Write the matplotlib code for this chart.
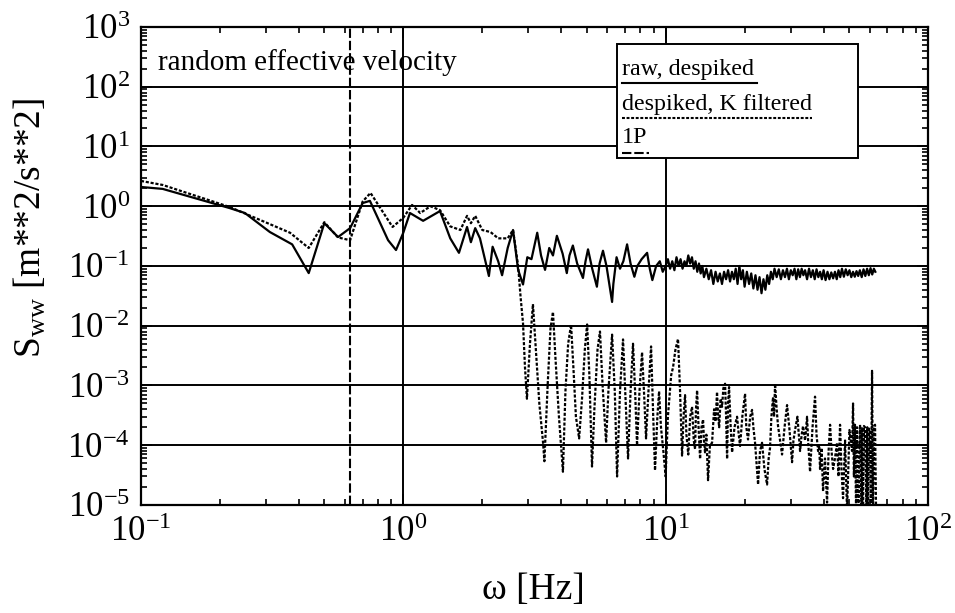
import matplotlib
matplotlib.use("Agg")
import matplotlib.pyplot as plt
from matplotlib.patches import Rectangle
from matplotlib.ticker import LogLocator, NullFormatter

plt.rcParams['font.family'] = ['Liberation Serif', 'DejaVu Serif']
plt.rcParams['mathtext.fontset'] = 'custom'
plt.rcParams['mathtext.rm'] = 'Liberation Serif'
plt.rcParams['mathtext.it'] = 'Liberation Serif:italic'
plt.rcParams['axes.unicode_minus'] = False

# raw, despiked (solid)
raw_f = [0.100, 0.121, 0.218, 0.249, 0.310, 0.377, 0.436, 0.500, 0.564, 0.627,
         0.700, 0.746, 0.875, 0.938, 1.00, 1.06, 1.19, 1.38, 1.51, 1.63,
         1.75, 1.81, 1.88, 1.96, 2.12, 2.19, 2.30, 2.38, 2.50, 2.62,
         2.74, 2.86, 2.97, 3.08, 3.24, 3.35, 3.47, 3.60, 3.72, 3.85,
         4.05, 4.20, 4.30, 4.43, 4.60, 4.84, 4.95, 5.06, 5.25, 5.47,
         5.60, 5.77, 5.95, 6.15, 6.25, 6.32, 6.50, 6.70, 6.90, 7.13,
         7.35, 7.60, 7.80, 8.10, 8.50, 8.70, 8.90, 9.20, 9.50, 9.75,
         10.0, 10.2, 10.4, 10.6, 10.8, 11.0, 11.2, 11.4, 11.6, 11.8,
         12.0, 12.2, 12.4, 12.6, 12.8, 13.0, 13.2, 13.4, 13.6, 13.8,
         14.0, 14.3, 14.6, 14.9, 15.2, 15.5, 15.8, 16.1, 16.4, 16.7,
         17.0, 17.3, 17.6, 17.9, 18.2, 18.5, 18.8, 19.1, 19.4, 19.7,
         20.0, 20.4, 20.8, 21.2, 21.6, 22.0, 22.4, 22.8, 23.2, 23.6,
         24.0, 24.4, 24.8, 25.2, 25.6, 26.0, 26.5, 27.0, 27.5, 28.0,
         28.5, 29.0, 29.5, 30.0, 30.5, 31.0, 31.5, 32.0, 32.5, 33.0,
         33.5, 34.0, 34.6, 35.2, 35.8, 36.4, 37.0, 37.6, 38.2, 38.8,
         39.4, 40.0, 40.7, 41.4, 42.1, 42.8, 43.5, 44.2, 44.9, 45.6,
         46.3, 47.0, 47.8, 48.6, 49.4, 50.2, 51.0, 51.8, 52.6, 53.4,
         54.2, 55.0, 55.9, 56.8, 57.7, 58.6, 59.5, 60.4, 61.3, 62.2,
         63.0]
raw_s = [2.10, 1.95, 0.93, 0.77, 0.37, 0.23, 0.076, 0.52, 0.305, 0.43,
         1.13, 1.23, 0.27, 0.185, 0.36, 0.77, 0.57, 0.83, 0.29, 0.166,
         0.45, 0.25, 0.43, 0.29, 0.068, 0.21, 0.12, 0.07, 0.20, 0.40,
         0.086, 0.049, 0.14, 0.13, 0.36, 0.15, 0.086, 0.20, 0.15, 0.32,
         0.16, 0.076, 0.15, 0.22, 0.11, 0.063, 0.12, 0.19, 0.09, 0.045,
         0.11, 0.18, 0.10, 0.04, 0.025, 0.05, 0.14, 0.09, 0.12, 0.23,
         0.11, 0.066, 0.10, 0.13, 0.166, 0.09, 0.058, 0.10, 0.12, 0.08,
         0.10, 0.13, 0.09, 0.12, 0.085, 0.14, 0.10, 0.13, 0.09, 0.12,
         0.10, 0.15, 0.11, 0.14, 0.09, 0.12, 0.08, 0.11, 0.075, 0.10,
         0.065, 0.09, 0.06, 0.085, 0.05, 0.08, 0.055, 0.075, 0.05, 0.08,
         0.06, 0.085, 0.055, 0.08, 0.06, 0.09, 0.05, 0.10, 0.06, 0.085,
         0.045, 0.08, 0.05, 0.075, 0.042, 0.07, 0.04, 0.065, 0.035, 0.06,
         0.04, 0.07, 0.05, 0.08, 0.06, 0.09, 0.065, 0.088, 0.06, 0.085,
         0.065, 0.09, 0.06, 0.085, 0.07, 0.09, 0.06, 0.088, 0.065, 0.09,
         0.07, 0.085, 0.06, 0.09, 0.065, 0.085, 0.06, 0.088, 0.065, 0.08,
         0.06, 0.085, 0.058, 0.08, 0.06, 0.078, 0.062, 0.08, 0.06, 0.085,
         0.065, 0.09, 0.066, 0.088, 0.07, 0.085, 0.065, 0.08, 0.066, 0.082,
         0.068, 0.085, 0.065, 0.088, 0.068, 0.09, 0.07, 0.092, 0.072, 0.09,
         0.08]

# despiked, K filtered (dotted)
filt_f = [0.100, 0.121, 0.218, 0.310, 0.370, 0.436, 0.500, 0.564, 0.627, 0.700,
          0.750, 0.910, 1.00, 1.08, 1.16, 1.27, 1.38, 1.51, 1.65, 1.75,
          1.81, 1.88, 2.00, 2.15, 2.30, 2.50, 2.62, 2.74, 2.80, 2.86,
          2.91, 2.96, 3.04, 3.12, 3.20, 3.30, 3.41, 3.45, 3.55, 3.64,
          3.72, 3.80, 3.92, 4.06, 4.15, 4.25, 4.36, 4.45, 4.55, 4.68,
          4.80, 4.92, 5.02, 5.12, 5.24, 5.35, 5.50, 5.62, 5.75, 5.93,
          6.05, 6.25, 6.40, 6.53, 6.70, 6.88, 7.00, 7.19, 7.35, 7.51,
          7.65, 7.78, 7.95, 8.13, 8.28, 8.42, 8.60, 8.80, 8.95, 9.11,
          9.30, 9.44, 9.60, 9.80, 10.0, 10.2, 10.5, 10.67, 10.9, 11.15,
          11.35, 11.55, 11.7, 11.86, 12.0, 12.2, 12.4, 12.61, 12.8, 12.95,
          13.05, 13.18, 13.35, 13.53, 13.7, 13.89, 14.0, 14.13, 14.3, 14.51,
          14.75, 15.03, 15.3, 15.5, 15.70, 15.85, 16.0, 16.2, 16.41, 16.6,
          16.85, 17.0, 17.15, 17.3, 17.45, 17.7, 17.92, 18.3, 18.72, 19.0,
          19.22, 19.6, 20.08, 20.3, 20.61, 21.0, 21.35, 21.6, 21.92, 22.2,
          22.51, 22.9, 23.31, 23.8, 24.36, 24.7, 25.00, 25.3, 25.67, 25.9,
          26.13, 26.5, 26.82, 27.3, 27.78, 28.4, 29.03, 29.6, 30.33, 30.7,
          31.14, 31.8, 32.54, 33.0, 33.41, 34.0, 34.60, 35.0, 35.52, 36.3,
          37.11, 37.6, 38.11, 38.5, 38.78, 39.3, 39.82, 40.5, 41.24, 41.8,
          42.35, 42.9, 43.48, 44.2, 45.02, 45.6, 46.22, 46.8, 47.45, 48.3,
          49.15, 50.2, 51.35, 51.81, 52.2, 52.7, 53.2, 53.66, 54.3, 55.09,
          55.8, 56.2, 56.56, 57.0, 57.55, 58.3, 58.7, 59.09, 59.6, 60.14,
          60.6, 61.21, 61.74, 62.3, 62.84, 63.4]
filt_s = [2.65, 2.27, 0.97, 0.50, 0.36, 0.20, 0.54, 0.30, 0.27, 1.20,
          1.67, 0.45, 0.64, 1.05, 0.77, 1.00, 0.86, 0.46, 0.40, 0.69,
          0.52, 0.69, 0.40, 0.37, 0.29, 0.29, 0.40, 0.10, 0.030, 0.011,
          0.002, 0.0006, 0.005, 0.023, 0.004, 0.0005, 0.00011, 0.000054, 0.001, 0.009,
          0.017, 0.003, 0.0003, 0.000036, 0.0008, 0.005, 0.0104, 0.002, 0.0003, 0.00013,
          0.0006, 0.004, 0.0105, 0.0015, 0.000044, 0.0004, 0.004, 0.0080, 0.001, 0.00011,
          0.0008, 0.0071, 0.0008, 0.00003, 0.0008, 0.0059, 0.0010, 0.00006, 0.0008, 0.0050,
          0.0008, 0.00010, 0.0008, 0.0036, 0.0007, 0.00013, 0.0008, 0.0045, 0.0004, 0.000038,
          0.0003, 0.0008, 0.0002, 0.00008, 0.00003, 0.0003, 0.0015, 0.002, 0.004, 0.006,
          0.0008, 0.000067, 0.0003, 0.00069, 0.00015, 0.00007, 0.0003, 0.00044, 0.00012, 0.000086,
          0.0004, 0.00083, 0.0002, 0.000059, 0.0002, 0.00027, 0.00012, 0.000076, 0.00015, 0.000026,
          0.0001, 0.00011, 0.0004, 0.00025, 0.00078, 0.0003, 0.0002, 0.0006, 0.00044, 0.0009,
          0.00107, 0.0003, 0.000059, 0.0005, 0.00094, 0.0002, 0.000076, 0.0002, 0.0003, 0.00015,
          0.000097, 0.0003, 0.00073, 0.0002, 0.000125, 0.0003, 0.00039, 0.0002, 0.00011, 0.00005,
          0.000022, 0.00008, 0.00011, 0.00004, 0.000022, 0.00006, 0.00009, 0.0003, 0.00064, 0.0003,
          0.00107, 0.0004, 0.00021, 0.00012, 0.00007, 0.0002, 0.00047, 0.0002, 0.000052, 0.00012,
          0.00018, 0.0003, 0.00008, 0.00015, 0.00021, 0.00012, 0.0003, 0.0001, 0.000036, 0.0002,
          0.00065, 0.00015, 0.00008, 0.0001, 0.00004, 0.00009, 0.000017, 0.00006, 0.000011, 0.00008,
          0.00022, 0.00008, 0.00004, 0.00006, 0.00011, 0.00003, 0.00022, 0.00004, 0.000013, 0.00012,
          0.000008, 0.00018, 0.00008, 0.0005, 0.00003, 0.00022, 0.000008, 0.0002, 0.000008, 0.00022,
          0.000008, 0.0002, 0.000008, 0.00021, 0.0002, 0.000008, 0.0002, 0.000008, 0.00019, 0.00018,
          0.000008, 0.00176, 0.000008, 0.0002, 0.00022, 0.000008]

one_p = 0.627  # 1P rotor frequency [Hz]

fig = plt.figure(figsize=(9.55, 6.13), dpi=100)
ax = fig.add_axes([0.1476, 0.1762, 0.8241, 0.7798])

ax.plot(raw_f, raw_s, color='black', lw=1.6, zorder=2)
ax.plot(filt_f, filt_s, color='black', lw=1.6, dashes=(1.4, 0.8), zorder=2)
ax.axvline(one_p, color='black', lw=1.5, dashes=(4.5, 1.4), zorder=2)

ax.set_xscale('log')
ax.set_yscale('log')
ax.set_xlim(0.1, 100)
ax.set_ylim(1e-5, 1e3)
for axis in (ax.xaxis, ax.yaxis):
    axis.set_major_locator(LogLocator(base=10, numticks=100))
    axis.set_minor_locator(LogLocator(base=10, subs=(2, 3, 4, 5, 6, 7, 8, 9), numticks=100))
    axis.set_minor_formatter(NullFormatter())
ax.grid(True, which='major', color='black', lw=1.4, zorder=0.5)
ax.tick_params(which='both', direction='in', top=True, right=True, labelsize=25)
ax.tick_params(which='major', length=8, width=1.2, pad=8)
ax.tick_params(which='minor', length=4.5, width=1.2)
for sp in ax.spines.values():
    sp.set_linewidth(1.6)

ax.text(0.0216, 0.910, 'random effective velocity', transform=ax.transAxes,
        fontsize=21, va='baseline', ha='left', zorder=4)

# legend box: label text above a short line sample
ax.add_patch(Rectangle((0.605, 0.726), 0.306, 0.238, transform=ax.transAxes,
                       facecolor='white', edgecolor='black', lw=1.4, zorder=5))
tr = ax.transAxes
ax.text(0.611, 0.900, 'raw, despiked', transform=tr, fontsize=17.3, va='baseline', zorder=6)
ax.plot([0.611, 0.783], [0.883, 0.883], transform=tr, color='black', lw=1.5, zorder=6)
ax.text(0.611, 0.827, 'despiked, K filtered', transform=tr, fontsize=17.3, va='baseline', zorder=6)
ax.plot([0.611, 0.853], [0.810, 0.810], transform=tr, color='black', lw=1.5,
        dashes=(1.4, 0.8), zorder=6)
ax.text(0.611, 0.757, '1P', transform=tr, fontsize=17.3, va='baseline', zorder=6)
ax.plot([0.611, 0.645], [0.736, 0.736], transform=tr, color='black', lw=1.5,
        dashes=(4.5, 1.4), zorder=6)

fig.text(0.559, 0.038, 'ω [Hz]', fontsize=27, ha='center', va='center')
fig.text(0.0314, 0.628, r'S$_{\rm ww}$ [m**2/s**2]', fontsize=27, ha='center',
         va='center', rotation=90)

fig.savefig('out.png', dpi=100)
